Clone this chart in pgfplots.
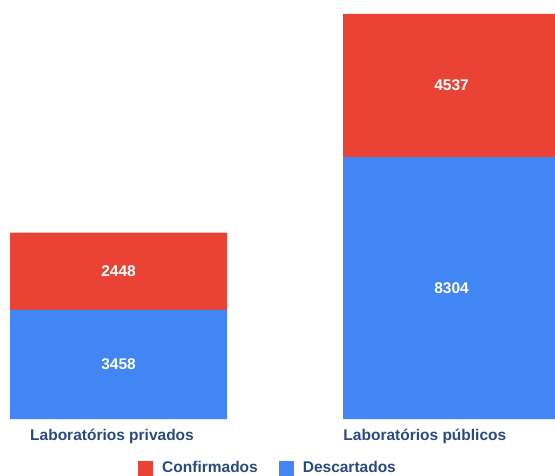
\documentclass[border=0pt]{standalone}
\usepackage{fontspec}
\setmainfont{Liberation Sans}
\usepackage{pgfplots}
\pgfplotsset{compat=1.18}
\definecolor{cred}{HTML}{EA4335}
\definecolor{cblue}{HTML}{4285F4}
\definecolor{ctext}{RGB}{41,73,133}
\begin{document}
\begin{tikzpicture}
\useasboundingbox (0,0) rectangle (555pt,475pt);
\begin{axis}[
  at={(0pt,56pt)}, anchor=south west,
  scale only axis, width=555pt, height=405pt,
  ybar stacked, bar width=0.6517,
  xmin=-0.3559, xmax=1.3108, ymin=0, ymax=12841,
  axis line style={draw=none},
  ytick=\empty,
  xtick={-0.0195,0.92},
  xticklabels={Laboratórios privados, Laboratórios públicos},
  major tick length=0pt,
  xticklabel style={font=\fontsize{15.5}{18}\selectfont\bfseries, text=ctext, yshift=-7pt},
  /pgf/number format/assume math mode=true,
  /pgf/number format/1000 sep={},
  nodes near coords,
  every node near coord/.append style={font=\fontsize{15.5}{18}\selectfont\bfseries, text=white},
  reverse legend,
  legend columns=2,
  legend style={at={(0.483,-0.121)}, anchor=center, draw=none, fill=none,
    font=\fontsize{15.5}{18}\selectfont\bfseries, text=ctext,
    /tikz/every odd column/.append style={column sep=7pt},
    /tikz/every even column/.append style={column sep=19pt}},
  legend image code/.code={\fill[#1] (0pt,-7.5pt) rectangle (15pt,7.5pt);},
]
\addplot[fill=cblue, draw=none] coordinates {(0,3458) (1,8304)};
\addplot[fill=cred, draw=none] coordinates {(0,2448) (1,4537)};
\legend{Descartados, Confirmados}
\end{axis}
\end{tikzpicture}
\end{document}
